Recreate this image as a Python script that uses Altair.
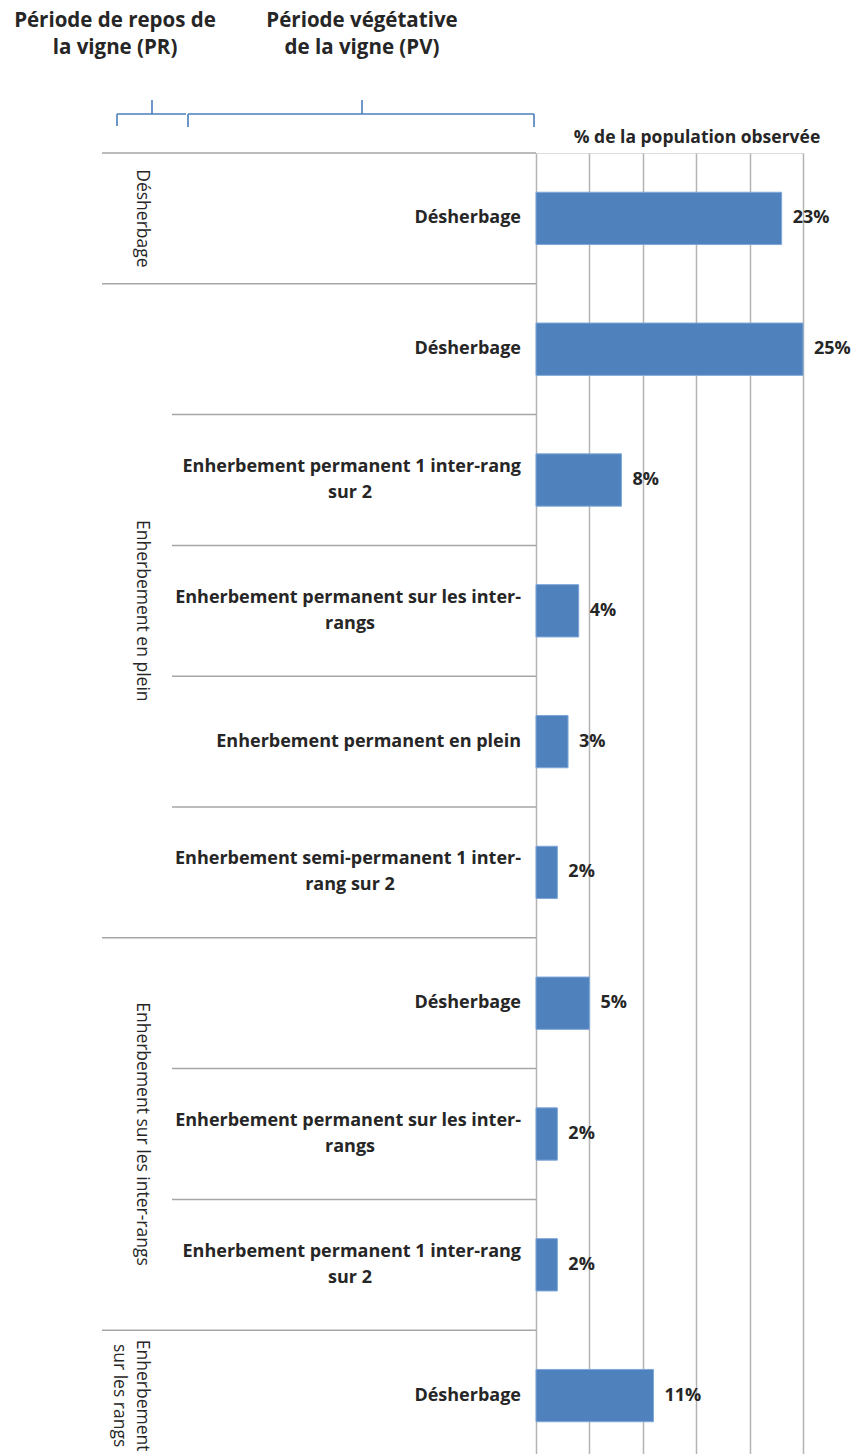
import altair as alt
import pandas as pd

# ---------------- data ----------------
pr_lines = [["Désherbage"], ["Enherbement en plein"],
            ["Enherbement sur les inter-rangs"], ["Enherbement", "sur les rangs"]]
pr_sizes = [1, 5, 3, 1]  # number of rows under each PR group

pv_line1 = ["Désherbage", "Désherbage",
            "Enherbement permanent 1 inter-rang",
            "Enherbement permanent sur les inter-",
            "Enherbement permanent en plein",
            "Enherbement semi-permanent 1 inter-",
            "Désherbage",
            "Enherbement permanent sur les inter-",
            "Enherbement permanent 1 inter-rang",
            "Désherbage"]
pv_line2 = ["", "", "sur 2", "rangs", "", "rang sur 2", "", "rangs", "sur 2", ""]
values = [23, 25, 8, 4, 3, 2, 5, 2, 2, 11]
x_ticks = [0, 5, 10, 15, 20, 25]

title_pr = ["Période  de repos de", "la vigne  (PR)"]
title_pv = ["Période végétative", "de la vigne (PV)"]
axis_title = "% de la population observée"

# ---------------- tables ----------------
n = len(values)
df = pd.DataFrame({
    "i": list(range(n)),
    "value": values,
    "l1": pv_line1,
    "l2": pv_line2,
    "label": [f"{v}%" for v in values],
})

starts = []
s = 0
for k in pr_sizes:
    starts.append(s)
    s += k
pr_df = pd.DataFrame({"label": ["\n".join(l) for l in pr_lines],
                      "start": starts, "size": pr_sizes})
group_b = pd.DataFrame({"pos": starts})
inner_b = pd.DataFrame({"pos": [i for i in range(n) if i not in starts]})

BLUE = "#4f81bd"
TXT = "#262626"
GRID = "#b4b4b4"
FONT = "Open Sans"
LBL = 18

yscale = alt.Scale(domain=[0, n], range=[0, 1308])
xscale = alt.Scale(domain=[0, 25], nice=False)
xaxis = alt.Axis(orient="top", values=x_ticks, labels=False, ticks=False,
                 domain=False, grid=True, gridColor=GRID, gridWidth=1.5,
                 title=None)

base = alt.Chart(df).transform_calculate(
    yc="datum.i + 0.5", y0="datum.i + 0.3", y1="datum.i + 0.7"
)
ycenter = alt.Y("yc:Q", scale=yscale, axis=None)

bars = base.mark_bar(color=BLUE, stroke="#7fa7d8", strokeWidth=1).encode(
    x=alt.X("value:Q", scale=xscale, axis=xaxis),
    x2=alt.datum(0),
    y=alt.Y("y0:Q", scale=yscale, axis=None),
    y2="y1:Q",
)

vals = base.mark_text(align="left", baseline="middle", dx=11, fontSize=LBL,
                      fontWeight="bold", color=TXT, font=FONT).encode(
    x=alt.X("value:Q", scale=xscale, axis=xaxis),
    y=ycenter,
    text="label:N",
)


def pv_layer(field, cond, align, x, dy):
    return base.transform_filter(cond).mark_text(
        align=align, baseline="middle", dy=dy, fontSize=LBL, fontWeight="bold",
        color=TXT, font=FONT
    ).encode(x=alt.value(x), y=ycenter, text=f"{field}:N")


pv_single = pv_layer("l1", "datum.l2 == ''", "right", -15, 0)
pv_first = pv_layer("l1", "datum.l2 != ''", "right", -15, -13)
pv_second = pv_layer("l2", "datum.l2 != ''", "center", -186, 13)

pr_text = alt.Chart(pr_df).mark_text(
    angle=90, align="center", baseline="top", lineBreak="\n", lineHeight=23,
    fontSize=17.5, color=TXT, font=FONT
).transform_calculate(
    yc="datum.start + datum.size / 2"
).encode(
    x=alt.value(-385),
    y=alt.Y("yc:Q", scale=yscale, axis=None),
    text="label:N",
)

rules_g = alt.Chart(group_b).mark_rule(color="#a6a6a6", strokeWidth=1.5).encode(
    x=alt.value(-434), x2=alt.value(0),
    y=alt.Y("pos:Q", scale=yscale, axis=None),
)
rules_i = alt.Chart(inner_b).mark_rule(color="#a6a6a6", strokeWidth=1.5).encode(
    x=alt.value(-364), x2=alt.value(0),
    y=alt.Y("pos:Q", scale=yscale, axis=None),
)

one = alt.Data(values=[{"k": 1}])


def txt(text, x, y, size, weight="bold", lh=27):
    return alt.Chart(one).mark_text(
        align="center", baseline="middle", lineBreak="\n", lineHeight=lh,
        fontSize=size, fontWeight=weight, color=TXT, font=FONT
    ).encode(x=alt.value(x), y=alt.value(y), text=alt.value(text))


t_pr = txt("\n".join(title_pr), -421, -132, 20.5)
t_pv = txt("\n".join(title_pv), -174, -132, 20.5)
t_ax = txt(axis_title, 161, -15, 17.5)

BRACE = "#4a7ebb"


def rule(x, x2, y, y2):
    return alt.Chart(one).mark_rule(color=BRACE, strokeWidth=1.6).encode(
        x=alt.value(x), x2=alt.value(x2), y=alt.value(y), y2=alt.value(y2))


braces = [
    # PR brace
    rule(-419, -350, -39, -39), rule(-419, -419, -39, -27),
    rule(-348, -348, -39, -26), rule(-384, -384, -39, -53),
    # PV brace
    rule(-348, -2, -39, -39), rule(-2, -2, -39, -26),
    rule(-174, -174, -39, -53),
]

chart = alt.layer(
    rules_g, rules_i, bars, vals, pv_single, pv_first, pv_second, pr_text,
    t_pr, t_pv, t_ax, *braces
).properties(
    width=267, height=1301,
    autosize=alt.AutoSizeParams(type="none"),
    padding={"left": 536, "top": 153, "right": 49, "bottom": 0},
).configure_view(stroke=None).configure(background="white")

chart.save("out.html", embed_options={"renderer": "svg", "actions": False})
